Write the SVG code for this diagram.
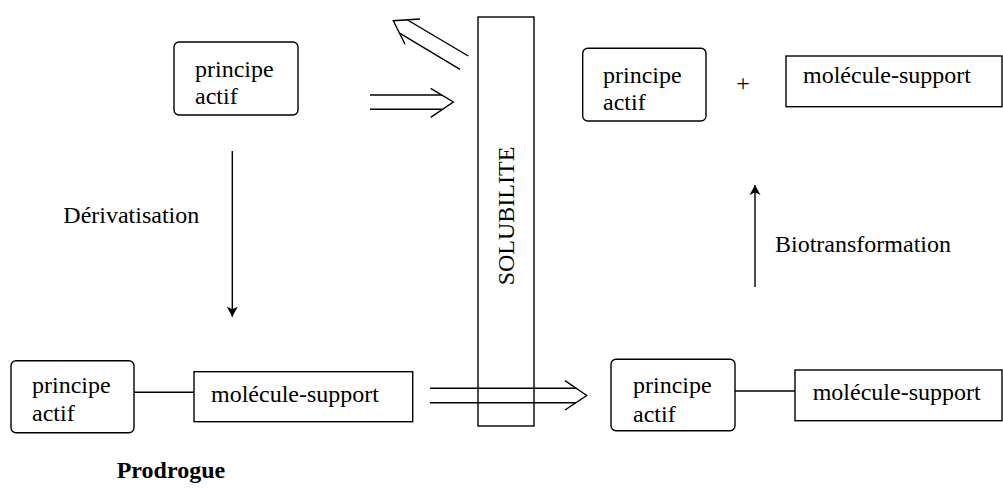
<svg xmlns="http://www.w3.org/2000/svg" width="1003" height="489" viewBox="0 0 1003 489">
<style>
.box{fill:#fff;stroke:#000;stroke-width:1.4}
.ln{fill:none;stroke:#000;stroke-width:1.4}
text{font-family:"Liberation Serif","Times New Roman",serif;font-size:24px;fill:#000}
.b{font-weight:bold}
</style>
<defs>
<marker id="ah" viewBox="0 0 10 16" refX="10" refY="8" markerWidth="10" markerHeight="16" markerUnits="userSpaceOnUse" orient="auto">
<path d="M0,2.5 L10,8 L0,13.5 L2.5,8 Z" fill="#000"/>
</marker>
</defs>
<rect width="1003" height="489" fill="#fff"/>
<g id="solubilite">
<rect class="box" x="478" y="17" width="56" height="409"/>
<text transform="translate(514,216) rotate(-90)" text-anchor="middle">SOLUBILITE</text>
</g>
<g id="connectors">
<!-- derivatisation -->
<line class="ln" x1="232.3" y1="151" x2="232.3" y2="316.7" marker-end="url(#ah)"/>
<!-- biotransformation -->
<line class="ln" x1="755" y1="287" x2="755" y2="185" marker-end="url(#ah)"/>
<!-- top double arrow right -->
<line class="ln" x1="370" y1="95" x2="442" y2="95"/>
<line class="ln" x1="370" y1="109.3" x2="442" y2="109.3"/>
<polyline class="ln" points="430.7,88.3 453.3,102 430.7,117.3"/>
<!-- diagonal double arrow up-left -->
<line class="ln" x1="468.3" y1="56" x2="406.7" y2="19.5"/>
<line class="ln" x1="460" y1="69.3" x2="400" y2="33.3"/>
<polyline class="ln" points="420,19 393.3,20.7 405,44.3"/>
<!-- bottom double arrow -->
<line class="ln" x1="430" y1="388.3" x2="576" y2="388.3"/>
<line class="ln" x1="430" y1="402.7" x2="576" y2="402.7"/>
<polyline class="ln" points="565,380.7 586.7,395.5 565,410"/>
<!-- links -->
<line class="ln" x1="134" y1="392.3" x2="194" y2="392.3"/>
<line class="ln" x1="735" y1="391" x2="795" y2="391"/>
</g>
<g id="pa-top-left">
<rect class="box" x="174" y="42" width="124" height="73" rx="5"/>
<text x="195" y="77">principe</text>
<text x="195" y="104">actif</text>
</g>
<g id="pa-top-right">
<rect class="box" x="582.7" y="48.3" width="123.3" height="72.7" rx="5"/>
<text x="603" y="83">principe</text>
<text x="603" y="110">actif</text>
</g>
<g id="plus"><text x="743" y="91" text-anchor="middle">+</text></g>
<g id="ms-top-right">
<rect class="box" x="786" y="56" width="216" height="50.7"/>
<text x="803" y="83">molécule-support</text>
</g>
<g id="pa-bottom-left">
<rect class="box" x="11" y="360.7" width="123" height="72" rx="5"/>
<text x="32" y="393">principe</text>
<text x="32" y="421">actif</text>
</g>
<g id="ms-bottom-left">
<rect class="box" x="194" y="371.7" width="218.7" height="50"/>
<text x="211" y="401.7">molécule-support</text>
</g>
<g id="pa-bottom-right">
<rect class="box" x="611" y="359.3" width="124" height="71.4" rx="5"/>
<text x="633" y="393.3">principe</text>
<text x="633" y="421.7">actif</text>
</g>
<g id="ms-bottom-right">
<rect class="box" x="795" y="370" width="207" height="50.7"/>
<text x="812.7" y="400">molécule-support</text>
</g>
<g id="labels">
<text x="63.3" y="223.3">Dérivatisation</text>
<text x="775" y="251.7">Biotransformation</text>
<text class="b" x="116.7" y="478">Prodrogue</text>
</g>
</svg>
